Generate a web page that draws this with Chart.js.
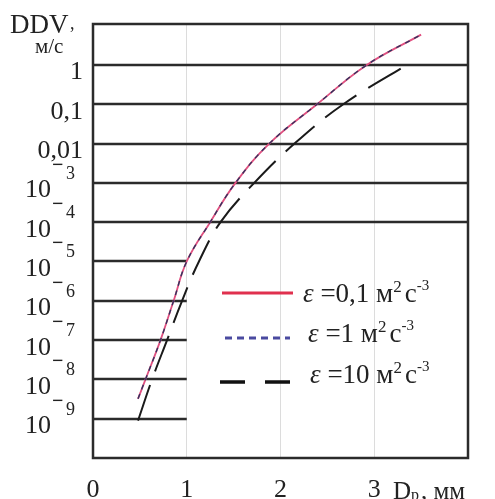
<!DOCTYPE html>
<html>
<head>
<meta charset="utf-8">
<script src="https://cdn.jsdelivr.net/npm/chart.js@4.4.1/dist/chart.umd.min.js"></script>
<style>
  body { margin: 0; background: #fff; }
  canvas { display: block; }
</style>
</head>
<body>
<canvas id="ddv" width="495" height="499"></canvas>
<script>
'use strict';

// curves (x = D in mm, y = DDV in m/s)
const xEps01 = [0.48, 0.56, 0.72, 0.86, 1.0, 1.25, 1.52, 1.88, 2.39, 2.92, 3.5];
const yEps01 = [3.2e-9, 1e-8, 1e-7, 1e-6, 1e-5, 1e-4, 1e-3, 1e-2, 1e-1, 1, 5.9];
const xEps1 = [0.48, 0.56, 0.72, 0.86, 1.0, 1.25, 1.52, 1.88, 2.39, 2.92, 3.5];
const yEps1 = [3.2e-9, 1e-8, 1e-7, 1e-6, 1e-5, 1e-4, 1e-3, 1e-2, 1e-1, 1, 5.9];
const xEps10 = [0.48, 0.63, 0.79, 0.95, 1.13, 1.36, 1.72, 2.15, 2.67, 3.4];
const yEps10 = [8.9e-10, 1e-8, 1e-7, 1e-6, 1e-5, 1e-4, 1e-3, 1e-2, 1e-1, 1.2];

// y tick labels
const yTickValues = [1, 0.1, 0.01, 1e-3, 1e-4, 1e-5, 1e-6, 1e-7, 1e-8, 1e-9];
const yTickText = ['1', '0,1', '0,01', '10', '10', '10', '10', '10', '10', '10'];
const yTickExp = ['', '', '', '3', '4', '5', '6', '7', '8', '9'];
const xTickValues = [0, 1, 2, 3];

const legendLabels = ['0,1', '1', '10'];

const serif = '"Liberation Serif", "DejaVu Serif", serif';

function pts(xs, ys) {
  return xs.map((x, i) => ({ x: x, y: ys[i] }));
}

let ddvPlugin = {
  id: 'ddvPlugin',
  beforeDatasetsDraw(chart) {
    let ctx = chart.ctx;
    let xs = chart.scales.x, ys = chart.scales.y;
    let a = chart.chartArea;
    let xOne = xs.getPixelForValue(1);
    ctx.save();
    ctx.strokeStyle = '#2b2b2b';
    ctx.lineWidth = 2.5;
    yTickValues.forEach(v => {
      let py = Math.round(ys.getPixelForValue(v));
      ctx.beginPath();
      ctx.moveTo(a.left, py);
      ctx.lineTo(v >= 1e-4 ? a.right : xOne, py);
      ctx.stroke();
    });
    ctx.restore();
  },
  afterDraw(chart) {
    let ctx = chart.ctx;
    let ys = chart.scales.y;
    let a = chart.chartArea;
    ctx.save();
    // frame
    ctx.strokeStyle = '#2b2b2b';
    ctx.lineWidth = 2.5;
    ctx.strokeRect(a.left, a.top, a.right - a.left, a.bottom - a.top);

    // y tick labels
    ctx.fillStyle = '#222';
    ctx.textBaseline = 'alphabetic';
    yTickValues.forEach((v, i) => {
      let py = ys.getPixelForValue(v);
      if (!yTickExp[i]) {
        ctx.font = '26px ' + serif;
        ctx.textAlign = 'right';
        ctx.fillText(yTickText[i], 83, py + 14.5);
      } else {
        ctx.textAlign = 'left';
        ctx.font = '26px ' + serif;
        ctx.fillText(yTickText[i], 25, py + 14.5);
        ctx.font = 'bold 20px ' + serif;
        ctx.fillText('\u2212', 52, py - 12);
        ctx.font = '18px ' + serif;
        ctx.fillText(yTickExp[i], 66, py - 4);
      }
    });

    // axis titles
    ctx.textAlign = 'left';
    ctx.font = '27px ' + serif;
    ctx.fillText('DDV', 10, 33);
    ctx.font = '18px ' + serif;
    ctx.fillText(',', 70, 29);
    ctx.font = '21px ' + serif;
    ctx.fillText('м/с', 35, 53);

    ctx.font = '25px ' + serif;
    ctx.fillText('D', 393, 499);
    ctx.font = '16px ' + serif;
    ctx.fillText('p', 411, 500);
    ctx.font = '25px ' + serif;
    ctx.fillText(', мм', 421, 499);

    // legend
    let rows = [
      { y: 293, x0: 222, x1: 293, color: '#e0304e', dash: [], width: 3, tx: 303, base: 302 },
      { y: 338, x0: 225, x1: 290, color: '#4a4aa0', dash: [7, 5], width: 3, tx: 308, base: 342 },
      { y: 382, x0: 220, x1: 293, color: '#111', dash: [25, 20], width: 3.5, tx: 310, base: 383 }
    ];
    rows.forEach((r, i) => {
      ctx.strokeStyle = r.color;
      ctx.lineWidth = r.width;
      ctx.setLineDash(r.dash);
      ctx.beginPath();
      ctx.moveTo(r.x0, r.y);
      ctx.lineTo(r.x1, r.y);
      ctx.stroke();
      ctx.setLineDash([]);

      let x = r.tx;
      let pieces = [
        { t: '\u03b5', f: 'italic 27px ', dy: 0 },
        { t: ' =' + legendLabels[i] + ' м', f: '27px ', dy: 0 },
        { t: '2', f: '17px ', dy: -10 },
        { t: 'с', f: '27px ', dy: 0 },
        { t: '-3', f: '15px ', dy: -12 }
      ];
      pieces.forEach(p => {
        ctx.font = p.f + serif;
        ctx.fillText(p.t, x, r.base + p.dy);
        x += ctx.measureText(p.t).width + (p.t === '2' ? 3 : 0);
      });
    });
    ctx.restore();
  }
};

let ddvChart = new Chart(document.getElementById('ddv'), {
  type: 'line',
  data: {
    datasets: [
      {
        label: 'ε =0,1',
        data: pts(xEps01, yEps01),
        borderColor: '#e05080',
        borderWidth: 1.8,
        pointRadius: 0,
        tension: 0.4,
        order: 2
      },
      {
        label: 'ε =1',
        data: pts(xEps1, yEps1),
        borderColor: '#33335e',
        borderWidth: 1.4,
        borderDash: [5, 5],
        pointRadius: 0,
        tension: 0.4,
        order: 1
      },
      {
        label: 'ε =10',
        data: pts(xEps10, yEps10),
        borderColor: '#1a1a1a',
        borderWidth: 2,
        borderDash: [38, 14],
        pointRadius: 0,
        tension: 0.4,
        order: 3
      }
    ]
  },
  options: {
    responsive: false,
    animation: false,
    layout: { padding: { top: 24, right: 27, left: 0, bottom: 0 } },
    plugins: {
      legend: { display: false },
      tooltip: { enabled: false }
    },
    scales: {
      x: {
        type: 'linear',
        min: 0,
        max: 4,
        afterFit: (scale) => { scale.height = 41; },
        afterBuildTicks: (scale) => { scale.ticks = xTickValues.map(v => ({ value: v })); },
        border: { display: false },
        grid: {
          drawTicks: false,
          lineWidth: 1,
          color: (c) => (c.tick && c.tick.value > 0) ? '#dcdcdc' : 'rgba(0,0,0,0)'
        },
        ticks: {
          padding: 17,
          color: '#222',
          font: { family: serif, size: 26 },
          callback: (v) => String(v)
        }
      },
      y: {
        type: 'logarithmic',
        min: 1e-10,
        max: 11,
        afterFit: (scale) => { scale.width = 93; },
        border: { display: false },
        grid: { display: false },
        ticks: { display: false }
      }
    }
  },
  plugins: [ddvPlugin]
});
</script>
</body>
</html>
